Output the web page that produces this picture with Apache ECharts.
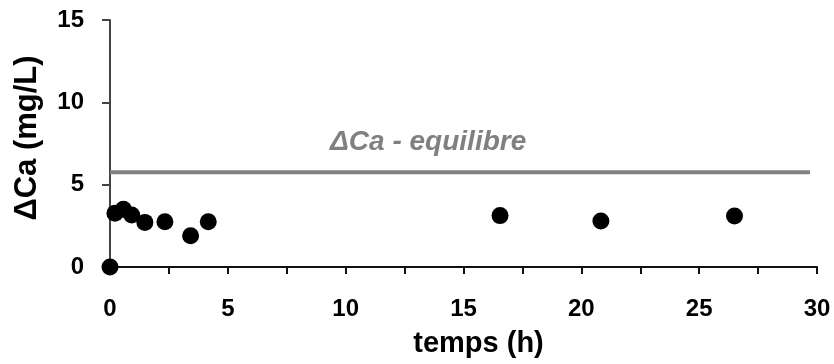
<!DOCTYPE html>
<html>
<head>
<meta charset="utf-8">
<script src="https://cdn.jsdelivr.net/npm/echarts@6/dist/echarts.min.js"></script>
<style>
html,body{margin:0;padding:0;background:#fff;}
#chart{width:834px;height:364px;}
</style>
</head>
<body>
<div id="chart"></div>
<script>
var timeH = [0, 0.21, 0.57, 0.92, 1.48, 2.33, 3.42, 4.17, 16.55, 20.83, 26.5];
var deltaCa = [0, 3.26, 3.5, 3.16, 2.71, 2.75, 1.9, 2.75, 3.12, 2.79, 3.1];
var equilibreX = [0, 29.7];
var equilibreY = [5.75, 5.75];
var equilibreLabel = '\u0394Ca - equilibre';
var equilibreLabelPos = [13.5, 7.55];
var xTicks = [0, 5, 10, 15, 20, 25, 30];
var yTicks = [0, 5, 10, 15];

var font = 'Liberation Sans, Arial, sans-serif';
var chart = echarts.init(document.getElementById('chart'));
chart.setOption({
  animation: false,
  grid: {left: 110, right: 17, top: 20, bottom: 97, containLabel: false},
  xAxis: {
    type: 'value', min: 0, max: 30, interval: 2.5,
    name: 'temps (h)', nameLocation: 'middle', nameGap: 62,
    nameTextStyle: {fontFamily: font, fontWeight: 'bold', fontSize: 29, color: '#000', padding: [0, 0, 0, 30]},
    axisLine: {show: true, lineStyle: {color: '#111', width: 2}},
    axisTick: {show: true, inside: false, length: 7, lineStyle: {color: '#111', width: 2}},
    axisLabel: {
      margin: 30, fontFamily: font, fontWeight: 'bold', fontSize: 24, color: '#000',
      formatter: function (v) { return xTicks.indexOf(v) >= 0 ? String(v) : ''; }
    },
    splitLine: {show: false}
  },
  yAxis: {
    type: 'value', min: 0, max: 15, interval: 5,
    name: 'ΔCa (mg/L)', nameLocation: 'middle', nameGap: 67, nameRotate: 90,
    nameTextStyle: {fontFamily: font, fontWeight: 'bold', fontSize: 31, color: '#000', padding: [0, 0, 0, 11]},
    axisLine: {show: true, lineStyle: {color: '#444', width: 2}},
    axisTick: {show: true, inside: false, length: 8, lineStyle: {color: '#444', width: 2}},
    axisLabel: {
      margin: 26, fontFamily: font, fontWeight: 'bold', fontSize: 24, color: '#000',
      formatter: function (v) { return yTicks.indexOf(v) >= 0 ? String(v) : ''; }
    },
    splitLine: {show: false}
  },
  series: [
    {
      type: 'line',
      data: equilibreX.map(function (x, i) { return [x, equilibreY[i]]; }),
      showSymbol: false, symbol: 'none',
      lineStyle: {color: '#808080', width: 4},
      z: 1,
      markPoint: {
        symbol: 'circle', symbolSize: 0,
        data: [{coord: equilibreLabelPos, value: equilibreLabel}],
        label: {
          show: true, position: 'inside', formatter: equilibreLabel,
          fontFamily: font, fontWeight: 'bold', fontStyle: 'italic', fontSize: 28, color: '#808080'
        }
      }
    },
    {
      type: 'scatter',
      data: timeH.map(function (x, i) { return [x, deltaCa[i]]; }),
      symbol: 'circle', symbolSize: 17,
      itemStyle: {color: '#000', opacity: 1},
      z: 3
    }
  ]
});
</script>
</body>
</html>
